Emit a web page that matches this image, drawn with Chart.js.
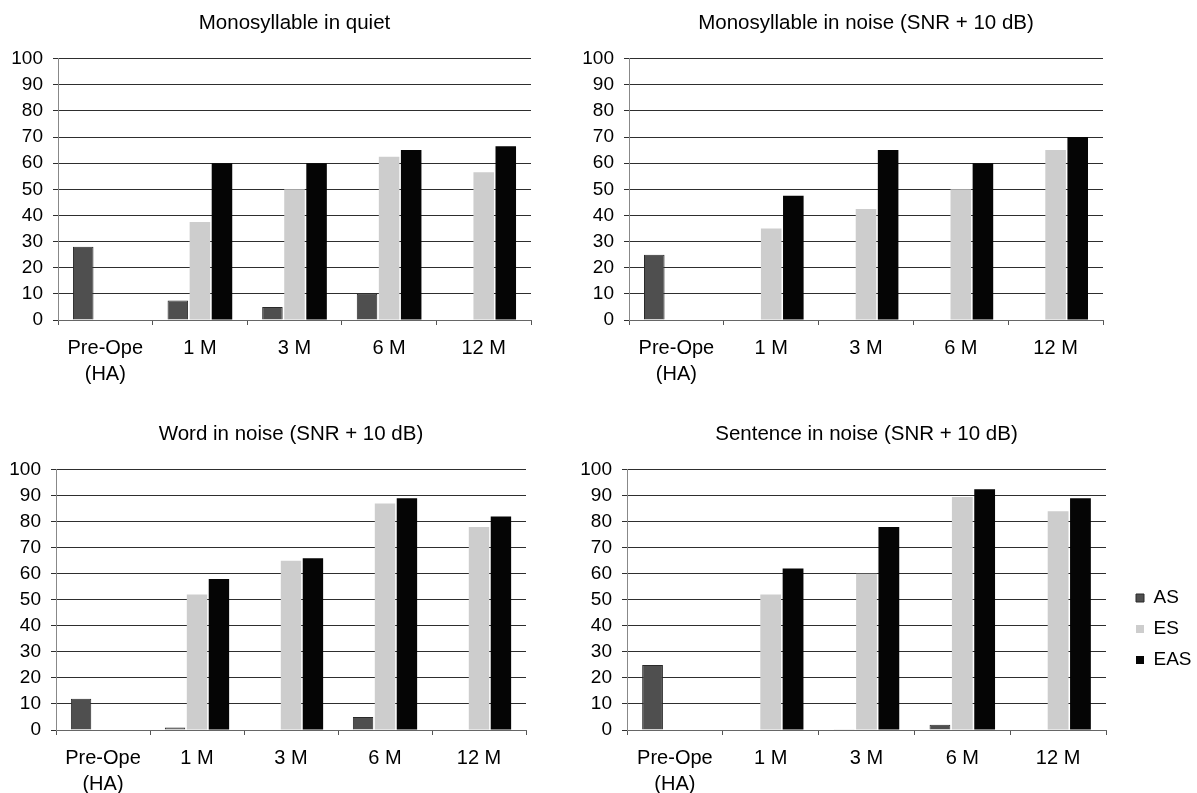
<!DOCTYPE html>
<html><head><meta charset="utf-8">
<script src="https://cdn.jsdelivr.net/npm/chart.js@4.4.0/dist/chart.umd.min.js"></script>
<style>
html,body{margin:0;padding:0;background:#fff;overflow:hidden;width:1197px;height:793px;}
canvas{position:absolute;display:block;}
</style></head><body>
<canvas id="c1" width="590" height="395" style="left:0;top:0"></canvas>
<canvas id="c2" width="637" height="395" style="left:560px;top:0"></canvas>
<canvas id="c3" width="590" height="398" style="left:0;top:395px"></canvas>
<canvas id="c4" width="637" height="398" style="left:560px;top:395px"></canvas>
<script>
// ---- data ----
const categories = [['Pre-Ope', '(HA)'], '1 M', '3 M', '6 M', '12 M'];
const seriesNames = ['AS', 'ES', 'EAS'];
const titles = ['Monosyllable in quiet', 'Monosyllable in noise (SNR + 10 dB)', 'Word in noise (SNR + 10 dB)', 'Sentence in noise (SNR + 10 dB)'];

const quietAS  = [28, 7.5, 5, 10, 0];
const quietES  = [0, 37.5, 50, 62.5, 56.5];
const quietEAS = [0, 60, 60, 65, 66.5];

const monoNoiseAS  = [25, 0, 0, 0, 0];
const monoNoiseES  = [0, 35, 42.5, 50, 65];
const monoNoiseEAS = [0, 47.5, 65, 60, 70];

const wordAS  = [12, 1, 0, 5, 0];
const wordES  = [0, 52, 65, 87, 78];
const wordEAS = [0, 58, 66, 89, 82];

const sentAS  = [25, 0, 0.3, 2, 0];
const sentES  = [0, 52, 60, 89.5, 84];
const sentEAS = [0, 62, 78, 92.5, 89];

const yMin = 0, yMax = 100, yStep = 10;

// ---- styles ----
const FONT = 'Liberation Sans, Arial, Helvetica, sans-serif';
const seriesColors = ['#4f4f4f', '#cdcdcd', '#050505'];
const seriesBorders = ['#2a2a2a', '#cdcdcd', '#050505'];
const seriesBorderW = [1, 0, 0];

function makeDatasets(vals) {
  return vals.map((v, i) => ({
    label: seriesNames[i],
    data: v,
    backgroundColor: seriesColors[i],
    borderColor: seriesBorders[i],
    borderWidth: seriesBorderW[i],
    categoryPercentage: 0.70,
    barPercentage: 0.93
  }));
}

const legendShift = {
  id: 'legendShift',
  afterLayout(chart, args, opts) {
    const lg = chart.legend;
    if (!lg || !opts || opts.left === undefined) return;
    lg.left = opts.left; lg.width = opts.width; lg.right = opts.left + opts.width;
    lg.top = opts.top; lg.bottom = opts.top + 200; lg.height = 200;
  }
};

function makeChart(id, vals, title, cfg) {
  const ctx = document.getElementById(id);
  return new Chart(ctx, {
    type: 'bar',
    data: { labels: categories, datasets: makeDatasets(vals) },
    plugins: [legendShift],
    options: {
      responsive: false,
      animation: false,
      layout: { padding: { left: 0, right: cfg.padRight, top: 0, bottom: 0 } },
      plugins: {
        title: {
          display: true, text: title, fullSize: false, color: '#000',
          font: { family: FONT, size: 20.5, weight: 'normal', lineHeight: 1.2 },
          padding: { top: cfg.titleTop, bottom: cfg.titleBottom }
        },
        legend: cfg.legend ? {
          display: true, position: 'right', align: 'start', maxWidth: 60,
          labels: { boxWidth: 8, boxHeight: 8, padding: 12, color: '#000',
                    font: { family: FONT, size: 19 } }
        } : { display: false },
        legendShift: cfg.legendPos || {},
        tooltip: { enabled: false }
      },
      scales: {
        x: {
          grid: { display: true, drawOnChartArea: false, drawTicks: true, tickLength: 5, color: '#555', offset: true },
          border: { display: true, color: '#666' },
          ticks: { color: '#000', padding: 10, maxRotation: 0, autoSkip: false,
                   font: { family: FONT, size: 20, lineHeight: 1.3 } },
          afterFit: s => { s.height = cfg.xHeight; }
        },
        y: {
          min: yMin, max: yMax,
          ticks: { stepSize: yStep, color: '#000', padding: 10,
                   font: { family: FONT, size: 19 } },
          grid: { color: '#2e2e2e', lineWidth: 1, tickLength: 5, drawTicks: true },
          border: { display: true, color: '#888' },
          afterFit: s => { s.width = cfg.yWidth; }
        }
      }
    }
  });
}

makeChart('c1', [quietAS, quietES, quietEAS], titles[0],
  { padRight: 59, titleTop: 11, titleBottom: 23, xHeight: 75, yWidth: 58 });
makeChart('c2', [monoNoiseAS, monoNoiseES, monoNoiseEAS], titles[1],
  { padRight: 94, titleTop: 11, titleBottom: 23, xHeight: 75, yWidth: 69 });
makeChart('c3', [wordAS, wordES, wordEAS], titles[2],
  { padRight: 64, titleTop: 27, titleBottom: 23, xHeight: 63, yWidth: 56 });
makeChart('c4', [sentAS, sentES, sentEAS], titles[3],
  { padRight: 31, titleTop: 27, titleBottom: 23, xHeight: 63, yWidth: 67,
    legend: true, legendPos: { left: 564, top: 181.5, width: 73 } });
</script>
</body></html>
